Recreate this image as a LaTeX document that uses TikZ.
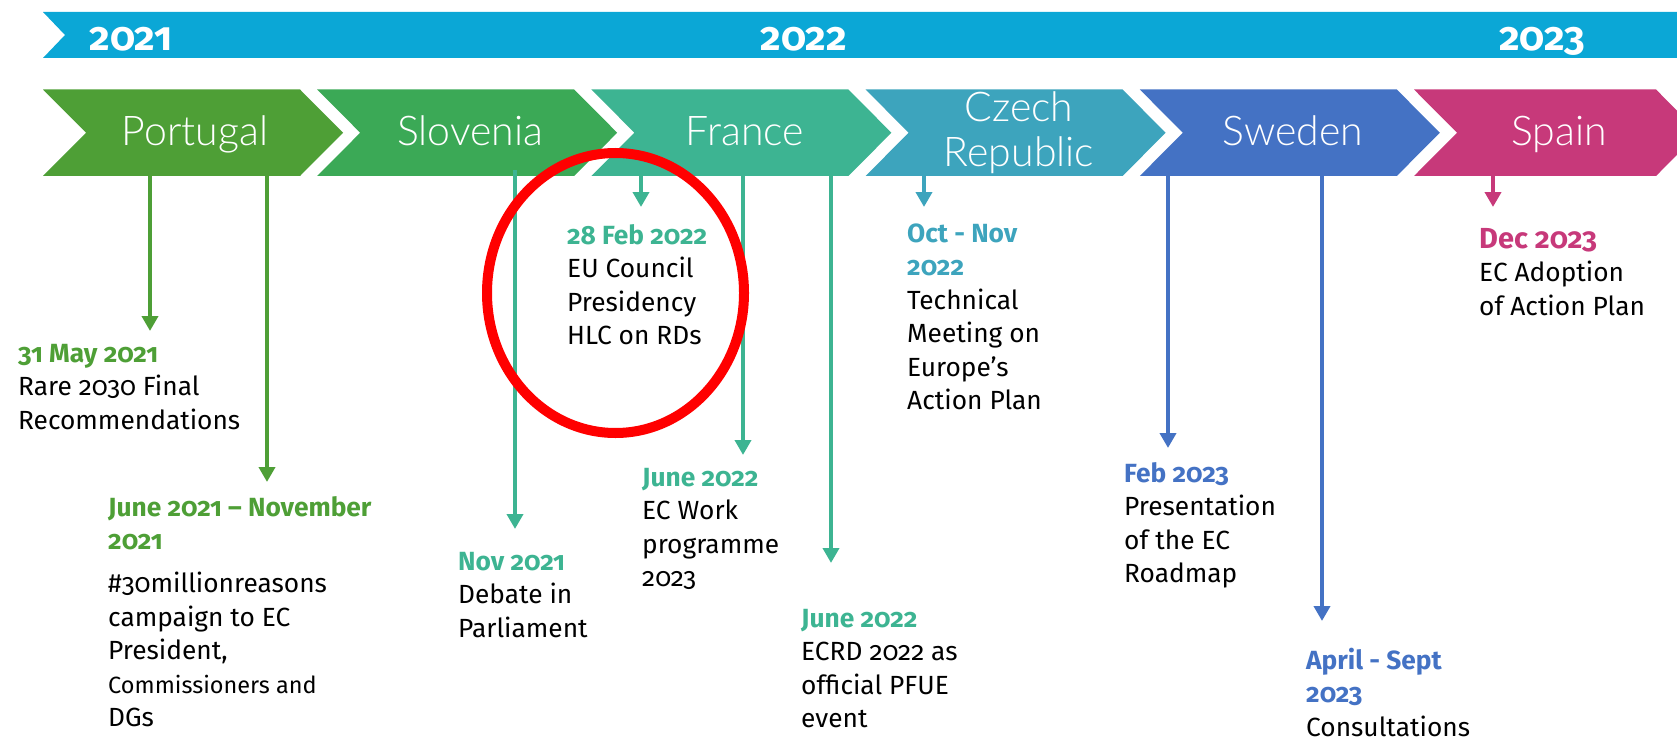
\documentclass[tikz,border=0pt]{standalone}
\usepackage{fontspec}
\setmainfont{Fira Sans}[Numbers=OldStyle]
\newfontfamily\chevfont{Lato}[UprightFont={* Light}]
\usetikzlibrary{arrows.meta,calc}

% palette
\definecolor{cBand}{HTML}{0BA7D6}
\definecolor{cPT}{HTML}{4E9F36}
\definecolor{cSI}{HTML}{3BA956}
\definecolor{cFR}{HTML}{3DB492}
\definecolor{cCZ}{HTML}{3DA4BD}
\definecolor{cSE}{HTML}{4472C4}
\definecolor{cES}{HTML}{C7397A}
\definecolor{cRing}{HTML}{FF0000}

\newcommand\evdate[2]{{\bfseries\color{#1}#2}}
\newcommand\firststrut{\rule{0pt}{24pt}}

\tikzset{
  chevbox/.style={fill=#1, draw=none},
  evarrow/.style={draw=#1, line width=4.4pt, -{Triangle[length=15pt,width=16pt]}},
  chevlabel/.style={text=white, font=\chevfont\fontsize{41}{45}\selectfont, inner sep=0pt, anchor=base},
  yearlabel/.style={text=white, font=\bfseries\fontsize{40}{44}\selectfont, inner sep=0pt, anchor=base},
  evtext/.style={anchor=north west, inner sep=0pt, align=left, text=black,
                 font=\fontsize{26.3}{33.5}\selectfont},
}

% chevron: #1 = left x, #2 = top-right x, #3 = colour
\newcommand\chevron[3]{%
  \fill[chevbox=#3] (#1,89.5) -- (#2,89.5) -- ($(#2,89.5)+(43,43.25)$) -- (#2,176)
     -- (#1,176) -- ($(#1,132.75)+(43,0)$) -- cycle;}

\begin{document}
\begin{tikzpicture}[x=1pt, y=-1pt]
\useasboundingbox (0,0) rectangle (1677,738);
\clip (0,0) rectangle (1677,738);

% year band
\fill[cBand] (43,12) -- (1677,12) -- (1677,58) -- (43,58) -- (65,35) -- cycle;
\node[yearlabel] (y2021) at (131,51) {2021};
\node[yearlabel] (y2022) at (804,51) {2022};
\node[yearlabel] (y2023) at (1542,51) {2023};

% presidency chevrons
\chevron{43}{300}{cPT}
\chevron{317.2}{574.2}{cSI}
\chevron{591.4}{848.4}{cFR}
\chevron{865.6}{1122.6}{cCZ}
\chevron{1139.8}{1396.8}{cSE}
\chevron{1414}{1656}{cES}

\node[chevlabel] (pt) at (195,146) {Portugal};
\node[chevlabel] (si) at (470,146) {Slovenia};
\node[chevlabel] (fr) at (745,146) {France};
\node[chevlabel] (cz) at (1019,122) {Czech};
\node[chevlabel] (cz2) at (1019,167) {Republic};
\node[chevlabel] (se) at (1293,146) {Sweden};
\node[chevlabel] (es) at (1559,146) {Spain};

% arrow end points
\coordinate (s1) at (150,176);   \coordinate (e1) at (150,331);
\coordinate (s2) at (267,176);   \coordinate (e2) at (267,482);
\coordinate (s3) at (515,170);   \coordinate (e3) at (515,529);
\coordinate (s4) at (641,176);   \coordinate (e4) at (641,207);
\coordinate (s5) at (743,176);   \coordinate (e5) at (743,455);
\coordinate (s6) at (831,176);   \coordinate (e6) at (831,563);
\coordinate (s7) at (924,176);   \coordinate (e7) at (924,207);
\coordinate (s8) at (1168,176);  \coordinate (e8) at (1168,448);
\coordinate (s9) at (1322,176);  \coordinate (e9) at (1322,621);
\coordinate (s10) at (1493,176); \coordinate (e10) at (1493,207);

\draw[evarrow=cPT] (s1) -- (e1);
\draw[evarrow=cPT] (s2) -- (e2);
\draw[evarrow=cFR] (s3) -- (e3);
\draw[evarrow=cFR] (s4) -- (e4);
\draw[evarrow=cFR] (s5) -- (e5);
\draw[evarrow=cFR] (s6) -- (e6);
\draw[evarrow=cCZ] (s7) -- (e7);
\draw[evarrow=cSE] (s8) -- (e8);
\draw[evarrow=cSE] (s9) -- (e9);
\draw[evarrow=cES] (s10) -- (e10);

% event descriptions (node y = first baseline - 24)
\node[evtext] (t1) at (18,338) {\firststrut\evdate{cPT}{31 May 2021}\\Rare 2030 Final\\Recommendations};
\node[evtext] (t2) at (108,492) {\firststrut\evdate{cPT}{June 2021 – November}\\\evdate{cPT}{2021}\\[9.5pt]
  \#30millionreasons\\campaign to EC\\President,\\{\fontsize{23.5}{33.5}\selectfont Commissioners and}\\DGs};
\node[evtext] (t3) at (458,546) {\firststrut\evdate{cFR}{Nov 2021}\\Debate in\\Parliament};
\node[evtext] (t4) at (567,220) {\firststrut\evdate{cFR}{28 Feb 2022}\\EU Council\\Presidency\\HLC on RDs};
\node[evtext] (t5) at (642,462) {\firststrut\evdate{cFR}{June 2022}\\EC Work\\programme\\2023};
\node[evtext] (t6) at (801,603) {\firststrut\evdate{cFR}{June 2022}\\ECRD 2022 as\\official PFUE\\event};
\node[evtext] (t7) at (907,218) {\firststrut\evdate{cCZ}{Oct - Nov}\\\evdate{cCZ}{2022}\\Technical\\Meeting on\\Europe’s\\Action Plan};
\node[evtext] (t8) at (1124,458) {\firststrut\evdate{cSE}{Feb 2023}\\Presentation\\of the EC\\Roadmap};
\node[evtext] (t9) at (1306,645) {\firststrut\evdate{cSE}{April - Sept}\\\evdate{cSE}{2023}\\Consultations};
\node[evtext] (t10) at (1479,220) {\rule{0pt}{28pt}{\fontsize{29}{33.5}\selectfont\evdate{cES}{Dec 2023}}\\EC Adoption\\of Action Plan};

% highlight ring
\draw[cRing, line width=10pt] (615.5,293) ellipse [x radius=128.5pt, y radius=140pt];
\end{tikzpicture}
\end{document}
